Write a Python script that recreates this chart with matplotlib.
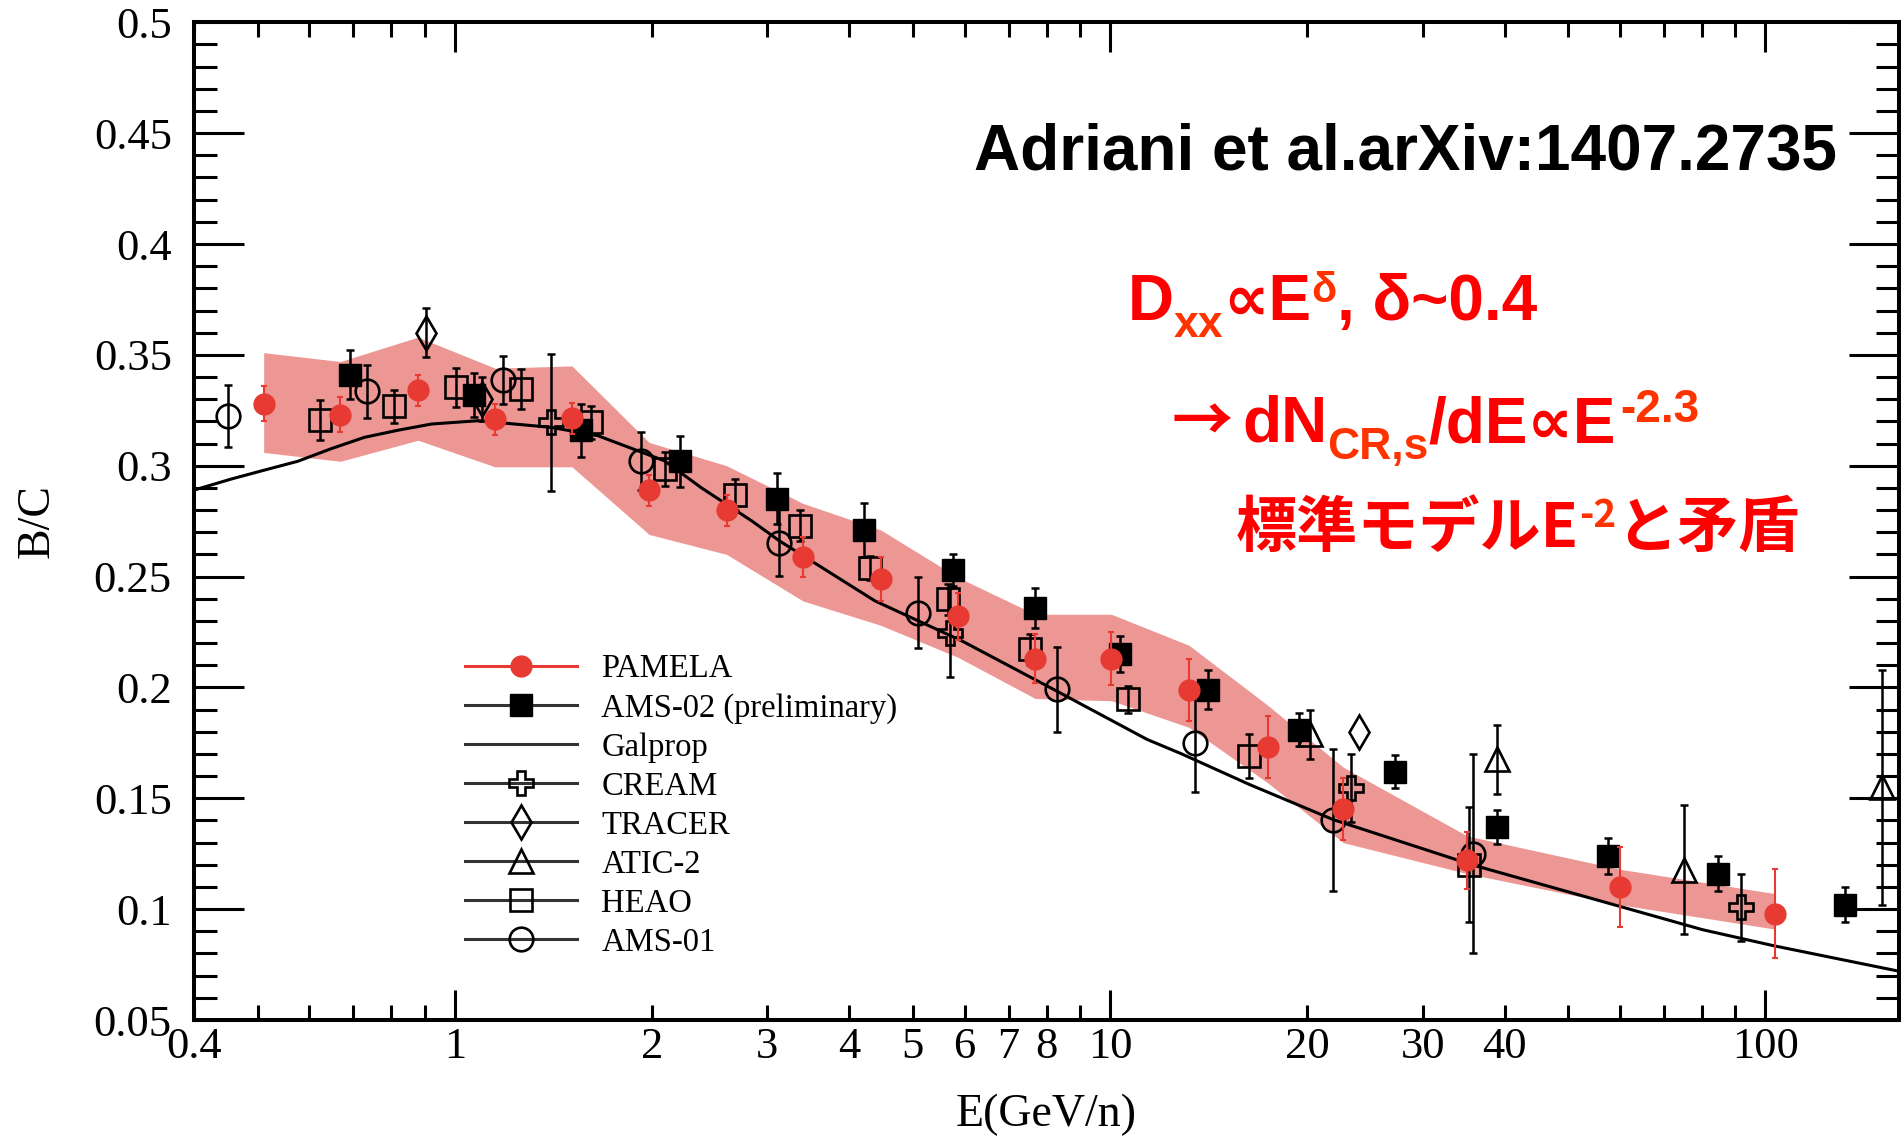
import matplotlib
matplotlib.use("Agg")
import matplotlib.pyplot as plt
import numpy as np
from matplotlib.lines import Line2D

plt.rcParams["font.family"] = ["Liberation Serif", "DejaVu Serif"]

# B/C ratio data, E in GeV/n
pamela_E = [0.511, 0.669, 0.879, 1.152, 1.51, 1.98, 2.60, 3.40, 4.47, 5.87,
            7.69, 10.05, 13.2, 17.4, 22.7, 35.1, 60.0, 103.5]
pamela_bc = [0.328, 0.323, 0.334, 0.321, 0.3215, 0.289, 0.280, 0.259, 0.249, 0.232,
             0.213, 0.213, 0.199, 0.173, 0.145, 0.122, 0.110, 0.098]
pamela_err = [0.008, 0.008, 0.007, 0.007, 0.007, 0.007, 0.007, 0.009, 0.010, 0.0105,
              0.011, 0.012, 0.014, 0.014, 0.014, 0.013, 0.018, 0.020]
band_hi = [0.351, 0.347, 0.358, 0.344, 0.345, 0.3105, 0.300, 0.283, 0.271, 0.2495,
           0.233, 0.233, 0.219, 0.192, 0.164, 0.133, 0.118, 0.107]
band_lo = [0.306, 0.302, 0.3115, 0.2995, 0.2995, 0.269, 0.260, 0.239, 0.228, 0.2135,
           0.195, 0.194, 0.182, 0.157, 0.130, 0.116, 0.102, 0.091]

ams02_E = [0.693, 1.069, 1.561, 2.205, 3.10, 4.22, 5.75, 7.69, 10.36, 14.1,
           19.4, 27.2, 39.0, 57.5, 84.7, 132.5]
ams02_bc = [0.341, 0.332, 0.316, 0.302, 0.285, 0.271, 0.253, 0.236, 0.215, 0.199,
            0.181, 0.162, 0.137, 0.124, 0.116, 0.102]
ams02_err = [0.011, 0.010, 0.012, 0.0115, 0.0115, 0.012, 0.0072, 0.009, 0.008, 0.0087,
             0.0075, 0.0075, 0.0075, 0.008, 0.008, 0.008]

galprop_E = [0.4, 0.456, 0.512, 0.576, 0.648, 0.728, 0.819, 0.921, 1.085, 1.404,
             1.655, 2.09, 2.38, 2.84, 3.13, 4.38, 5.95, 8.3, 11.4, 12.87, 16.3,
             21.9, 35.7, 80.3, 103, 160]
galprop_bc = [0.289, 0.294, 0.298, 0.302, 0.3077, 0.3128, 0.316, 0.3188, 0.3203, 0.3173,
              0.3135, 0.3022, 0.290, 0.2751, 0.2661, 0.239, 0.2209, 0.1983, 0.1765,
              0.170, 0.1563, 0.1404, 0.120, 0.0907, 0.0835, 0.072]

cream_E = [1.404, 5.70, 23.3, 91.9]
cream_bc = [0.3195, 0.2247, 0.1547, 0.1008]
cream_err = [0.031, 0.020, 0.0155, 0.015]

tracer_E = [0.903, 1.10, 24.0]
tracer_bc = [0.360, 0.330, 0.180]
tracer_err = [0.011, 0.010, 0.0]

atic_E = [20.2, 38.9, 75.1, 150.6]
atic_bc = [0.1788, 0.1675, 0.1178, 0.155]
atic_err = [0.011, 0.0155, 0.029, 0.053]

heao_E = [0.622, 0.807, 1.006, 1.264, 1.616, 2.09, 2.68, 3.37, 4.31, 5.66,
          7.54, 10.66, 16.3, 35.3]
heao_bc = [0.3208, 0.3268, 0.3353, 0.3346, 0.3195, 0.2985, 0.287, 0.2729, 0.254, 0.2397,
           0.2172, 0.1946, 0.169, 0.120]
heao_err = [0.009, 0.0075, 0.009, 0.009, 0.0075, 0.0075, 0.007, 0.007, 0.0055, 0.007,
            0.007, 0.006, 0.0098, 0.026]

ams01_E = [0.451, 0.735, 1.185, 1.923, 3.12, 5.10, 8.30, 13.5, 21.9, 35.8]
ams01_bc = [0.3226, 0.3335, 0.3387, 0.3022, 0.2653, 0.2337, 0.1991, 0.175, 0.1404, 0.125]
ams01_err = [0.014, 0.012, 0.011, 0.013, 0.015, 0.016, 0.019, 0.022, 0.032, 0.045]

x_major = [1, 10, 100]
x_minor = [0.4, 0.5, 0.6, 0.7, 0.8, 0.9, 2, 3, 4, 5, 6, 7, 8, 9,
           20, 30, 40, 50, 60, 70, 80, 90]
x_minor_labels = ["0.4", "", "", "", "", "", "2", "3", "4", "5", "6", "7", "8", "",
                  "20", "30", "40", "", "", "", "", ""]
y_major = np.round(np.arange(0.05, 0.501, 0.05), 2)
y_minor = np.round(np.arange(0.05, 0.5, 0.01), 2)

RED = "#e63a32"
BAND = "#ec9794"

W, H = 1901, 1139
fig = plt.figure(figsize=(W / 100, H / 100), dpi=100)
ax = fig.add_axes([194 / W, (H - 1020) / H, (1899 - 194) / W, (1020 - 22.3) / H])

ax.fill_between(pamela_E, band_lo, band_hi, color=BAND, lw=0, zorder=1)
ax.plot(galprop_E, galprop_bc, color="k", lw=2.2, zorder=2)

ebar = dict(fmt="none", ecolor="k", elinewidth=1.8, capsize=3, capthick=1.8, zorder=3)
opn = dict(ls="none", mfc="none", mec="k", mew=1.9, zorder=4)

ax.errorbar(heao_E, heao_bc, yerr=heao_err, **ebar)
ax.plot(heao_E, heao_bc, marker="s", ms=16, **opn)

ax.errorbar(ams01_E, ams01_bc, yerr=ams01_err, **ebar)
ax.plot(ams01_E, ams01_bc, marker="o", ms=17, **opn)

ax.errorbar(atic_E, atic_bc, yerr=atic_err, **ebar)
ax.plot(atic_E, atic_bc, marker="^", ms=17.5, **opn)

has_err = np.array(tracer_err) > 0
ax.errorbar(np.array(tracer_E)[has_err], np.array(tracer_bc)[has_err],
            yerr=np.array(tracer_err)[has_err], **ebar)
ax.plot(tracer_E, tracer_bc, marker="d", ms=17, **opn)

ax.errorbar(cream_E, cream_bc, yerr=cream_err, **ebar)
ax.plot(cream_E, cream_bc, marker="P", ms=17, **opn)

ax.errorbar(ams02_E, ams02_bc, yerr=ams02_err, **ebar)
ax.plot(ams02_E, ams02_bc, ls="none", marker="s", ms=16, color="k", zorder=5)

ax.errorbar(pamela_E, pamela_bc, yerr=pamela_err, fmt="none", ecolor=RED,
            elinewidth=1.5, capsize=2.2, capthick=1.5, zorder=6)
ax.plot(pamela_E, pamela_bc, ls="none", marker="o", ms=15, color=RED, zorder=7)

ax.set_xscale("log")
ax.set_xlim(0.4, 160)
ax.set_ylim(0.05, 0.5)
ax.set_xticks(x_major, labels=[str(v) for v in x_major])
ax.set_xticks(x_minor, labels=x_minor_labels, minor=True)
ax.set_yticks(y_major, labels=[f"{v:g}" for v in y_major])
ax.set_yticks(y_minor, minor=True)

for s in ax.spines.values():
    s.set_linewidth(2.9)
ax.tick_params(which="both", direction="in", top=True, right=True, width=2.2,
               labelsize=32)
ax.tick_params(axis="x", which="major", length=21.6, pad=5)
ax.tick_params(axis="x", which="minor", length=10.8, pad=5)
ax.tick_params(axis="y", which="major", length=36, pad=16)
ax.tick_params(axis="y", which="minor", length=16.6)

ax.set_xlabel("E(GeV/n)", fontsize=33, labelpad=19)
ax.set_ylabel("B/C", fontsize=33, labelpad=25)

# legend
lg = "#333333"
handles = [
    Line2D([], [], color=RED, lw=2.2, marker="o", ms=15),
    Line2D([], [], color=lg, lw=2.2, marker="s", ms=16, mfc="k", mec="k"),
    Line2D([], [], color=lg, lw=2.2),
    Line2D([], [], color=lg, lw=2.2, marker="P", ms=17, mfc="none", mec="k", mew=1.9),
    Line2D([], [], color=lg, lw=2.2, marker="d", ms=17, mfc="none", mec="k", mew=1.9),
    Line2D([], [], color=lg, lw=2.2, marker="^", ms=17.5, mfc="none", mec="k", mew=1.9),
    Line2D([], [], color=lg, lw=2.2, marker="s", ms=16, mfc="none", mec="k", mew=1.9),
    Line2D([], [], color=lg, lw=2.2, marker="o", ms=17, mfc="none", mec="k", mew=1.9),
]
labels = ["PAMELA", "AMS-02 (preliminary)", "Galprop", "CREAM", "TRACER",
          "ATIC-2", "HEAO", "AMS-01"]
ax.legend(handles, labels, loc="upper left", bbox_to_anchor=(0.159, 0.367),
          frameon=False, fontsize=23.5, handlelength=3.43, handletextpad=0.74,
          labelspacing=0.26, borderpad=0, borderaxespad=0)

# annotations, placed run by run so sub/superscripts can be shifted
renderer = fig.canvas.get_renderer()
SANS = ["Liberation Sans", "DejaVu Sans"]
CJK = ["Noto Sans CJK JP", "DejaVu Sans"]
MAIN = "#ff0000"
SUB = "#ff3300"


def rich_text(x, y, runs):
    # each run: text, size, colour, rise in px, family, extra gap after in px
    for s, size, color, rise, fam, gap in runs:
        t = fig.text(x / W, 1 - (y - rise) / H, s, fontsize=size, color=color,
                     fontweight="bold", family=fam, va="baseline", ha="left")
        x += t.get_window_extent(renderer).width + gap


fig.text(974 / W, 1 - 170 / H, "Adriani et al.arXiv:1407.2735", fontsize=46,
         fontweight="bold", family=SANS, color="k", va="baseline", ha="left")

rich_text(1128, 320, [
    ("D", 46, MAIN, 0, SANS, 0),
    ("xx", 32, SUB, -17, SANS, 0),
    ("\u221dE", 46, MAIN, 0, SANS, 0),
    ("\u03b4", 30, SUB, 18, SANS, 0),
    (", \u03b4~0.4", 46, MAIN, 0, SANS, 0),
])
rich_text(1172, 442, [
    ("\u2192", 44, MAIN, 0, CJK, 9),
    ("dN", 46, MAIN, 0, SANS, 0),
    ("CR,s", 32, SUB, -17, SANS, 0),
    ("/dE\u221dE", 46, MAIN, 0, SANS, 4),
    ("-2.3", 33, SUB, 20, SANS, 0),
])
rich_text(1236, 547, [
    ("標準モデルE", 44, MAIN, 0, CJK, 0),
    ("-2", 28, SUB, 20, CJK, 0),
    ("と矛盾", 44, MAIN, 0, CJK, 0),
])

fig.savefig("out.png", dpi=100)
